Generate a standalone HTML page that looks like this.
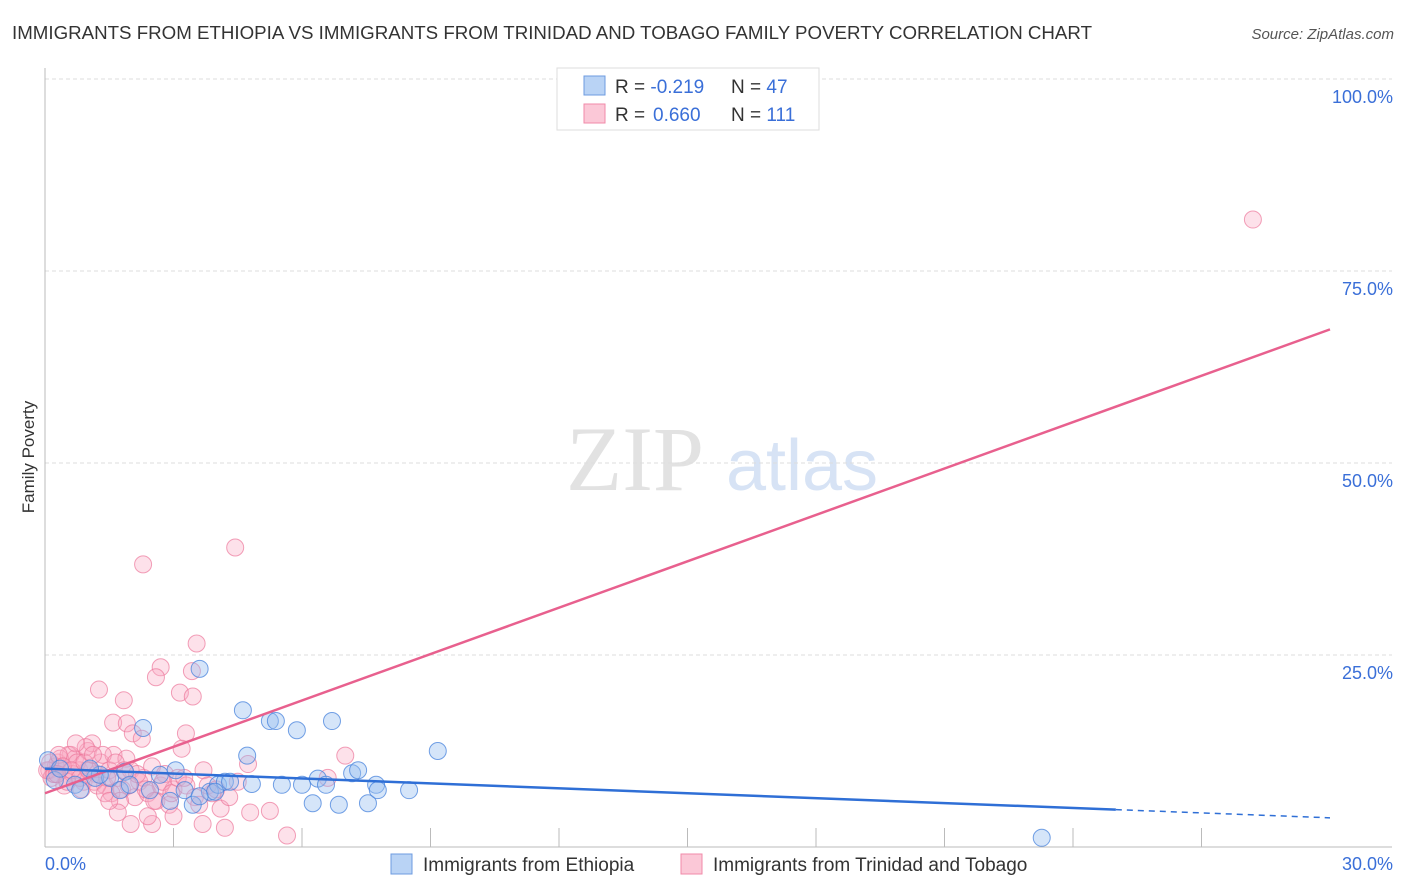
<!DOCTYPE html>
<html><head><meta charset="utf-8"><style>
body{margin:0;background:#fff;font-family:"Liberation Sans",sans-serif;}
#wrap{position:relative;width:1406px;height:892px;overflow:hidden;}
</style></head><body><div id="wrap">
<svg id="svg" width="1406" height="892" xmlns="http://www.w3.org/2000/svg">
<text x="12" y="39" font-size="18" fill="#333" textLength="1080" lengthAdjust="spacingAndGlyphs">IMMIGRANTS FROM ETHIOPIA VS IMMIGRANTS FROM TRINIDAD AND TOBAGO FAMILY POVERTY CORRELATION CHART</text>
<text x="1394" y="39" font-size="15" fill="#555" font-style="italic" text-anchor="end">Source: ZipAtlas.com</text>
<text x="34" y="457" font-size="17" fill="#333" text-anchor="middle" transform="rotate(-90 34 457)">Family Poverty</text>
<g><text x="635" y="490" font-size="92" fill="#e2e2e2" font-family="Liberation Serif,serif" text-anchor="middle">ZIP</text><text x="802" y="490" font-size="72" fill="#d7e3f5" text-anchor="middle">atlas</text></g>
<g id="grid"></g><g id="pts"></g><g id="lines"></g>
<g>
<rect x="557" y="68" width="262" height="62" fill="#fff" stroke="#ddd"/>
<rect x="584" y="76" width="21" height="19" fill="#b9d3f5" stroke="#6d9be0"/>
<rect x="584" y="104" width="21" height="19" fill="#fbc8d7" stroke="#f08aa8"/>
<text x="615" y="93" font-size="19" fill="#333">R = <tspan fill="#3a6fd8">-0.219</tspan><tspan x="731">N = </tspan><tspan fill="#3a6fd8">47</tspan></text>
<text x="615" y="121" font-size="19" fill="#333">R = <tspan fill="#3a6fd8" x="653">0.660</tspan><tspan x="731">N = </tspan><tspan fill="#3a6fd8">111</tspan></text>
</g>
<g>
<rect x="391" y="854" width="21" height="20" fill="#b9d3f5" stroke="#6d9be0"/>
<text x="423" y="871" font-size="19" fill="#333">Immigrants from Ethiopia</text>
<rect x="681" y="854" width="21" height="20" fill="#fbc8d7" stroke="#f08aa8"/>
<text x="713" y="871" font-size="19" fill="#333">Immigrants from Trinidad and Tobago</text>
</g>
</svg>
<script>
const xTicks=[0,3,6,9,12,15,18,21,24,27,30];
const yTicks=[25,50,75,100];
const yTickLabels=["25.0%","50.0%","75.0%","100.0%"];
const blueX=[0.07,0.23,0.7,0.82,1.17,1.52,1.87,2.29,2.45,2.68,3.05,3.26,3.45,3.61,3.85,4.04,4.2,4.62,4.72,5.25,5.39,5.53,5.88,6,6.25,6.37,6.7,6.56,6.86,7.17,7.31,7.54,7.73,7.77,8.5,9.17,23.27,1.28,1.75,0.35,1.05,1.98,2.92,3.97,4.32,4.83,3.61];
const blueY=[11.3,8.7,8.1,7.4,9,9,9.8,15.5,7.4,9.4,10,7.4,5.5,23.2,7.2,8.1,8.5,17.8,11.9,16.4,16.4,8.1,15.2,8.1,5.7,8.9,16.4,8.1,5.5,9.6,10,5.7,8.1,7.4,7.4,12.5,1.2,9.4,7.4,10.2,10.2,8.1,6,7.2,8.5,8.2,6.6];
const pinkX=[28.2,4.44,2.29,3.54,2.7,2.59,3.43,3.15,3.45,1.26,1.84,1.59,1.91,3.29,2.05,2.26,3.19,4.74,7.01,5.25,5.65,3.68,4.79,0.1,0.2,0.3,0.4,0.5,0.6,0.7,0.8,0.9,1.0,1.1,1.2,1.3,1.4,1.5,1.6,1.7,1.8,1.9,2.0,2.1,2.2,2.3,2.4,2.5,2.6,2.7,2.8,2.9,3.0,3.1,3.3,3.5,3.7,3.9,4.1,0.15,0.25,0.35,0.45,0.55,0.65,0.75,0.85,0.95,1.05,1.15,1.35,1.45,1.55,1.65,1.75,1.85,1.95,2.15,2.35,2.55,2.75,2.95,3.25,3.6,3.8,4.0,4.3,4.5,0.05,0.12,0.22,0.32,0.42,0.52,0.62,0.72,0.82,0.92,1.02,1.12,1.22,1.4,1.7,2.0,2.5,3.0,1.5,2.4,4.2,6.6,0.28];
const pinkY=[81.7,39,36.8,26.5,23.4,22.1,22.9,20.1,19.6,20.5,19.1,16.2,16.1,14.8,14.8,14.1,12.8,10.8,11.9,4.7,1.5,3,4.5,10,9.5,11,10.5,9,12,11.5,10,8.5,12.5,13.5,9.5,11,8,10,12,9,7.5,11.5,10,6.5,8.5,9,7,10.5,6,8,9.5,5.5,7.5,9,8,6.5,10,7,5,9,10.5,11.5,8,12,9.5,11,7.5,13,10,8.5,12,9,7,11,6,10,8,9.5,7.5,6,8.5,7,9,5.5,8,7.5,6.5,8.5,10,11,9.5,12,10.5,8.5,10,13.5,9,11,10,12,8,7,4.5,3,3,4,6,4,2.5,9,9.5];
const blueFit=[10.2,3.8], pinkFit=[7.0,67.4];
const X=v=>45+v/30*1285, Y=v=>847-v/25*192;
const NS="http://www.w3.org/2000/svg";
function mk(t,a,p){const e=document.createElementNS(NS,t);for(const k in a)e.setAttribute(k,a[k]);p.appendChild(e);return e;}
const grid=document.getElementById('grid');
yTicks.forEach((v,i)=>{
 const l=mk('line',{x1:45,x2:1392,y1:Y(v),y2:Y(v),stroke:'#ddd','stroke-dasharray':'4,3'},grid);
 
 
 const t=mk('text',{x:1393,y:Y(v)+24,'font-size':18,fill:'#3a6fd8','text-anchor':'end'},grid);t.textContent=yTickLabels[i];
 
 
});
mk('line',{x1:45,x2:45,y1:68,y2:847,stroke:'#bbb'},grid);
mk('line',{x1:45,x2:1392,y1:847,y2:847,stroke:'#bbb'},grid);
xTicks.forEach(v=>{if(v>0&&v<30){const l=mk('line',{x1:X(v),x2:X(v),y1:828,y2:847,stroke:'#bbb'},grid);
 
 }});
const t0=mk('text',{x:45,y:870,'font-size':18,fill:'#3a6fd8'},grid);t0.textContent='0.0%';


const t1=mk('text',{x:1393,y:870,'font-size':18,fill:'#3a6fd8','text-anchor':'end'},grid);t1.textContent='30.0%';


const pts=document.getElementById('pts');
pinkX.forEach((x,i)=>{const c=mk('circle',{cx:X(x),cy:Y(pinkY[i]),r:8.5,fill:'rgba(248,170,195,0.35)',stroke:'rgba(236,120,155,0.7)','stroke-width':1},pts);
 
 });
blueX.forEach((x,i)=>{const c=mk('circle',{cx:X(x),cy:Y(blueY[i]),r:8.5,fill:'rgba(150,190,240,0.4)',stroke:'rgba(70,130,220,0.75)','stroke-width':1},pts);
 
 });
const lines=document.getElementById('lines');
const bAt=v=>blueFit[0]+(blueFit[1]-blueFit[0])*v/30;
const pl=mk('line',{x1:X(0),y1:Y(pinkFit[0]),x2:X(30),y2:Y(pinkFit[1]),stroke:'#e8608e','stroke-width':2.5},lines);


const bl=mk('line',{x1:X(0),y1:Y(bAt(0)),x2:X(25),y2:Y(bAt(25)),stroke:'#2f6fd6','stroke-width':2.5},lines);


const bd=mk('line',{x1:X(25),y1:Y(bAt(25)),x2:X(30),y2:Y(bAt(30)),stroke:'#2f6fd6','stroke-width':1.5,'stroke-dasharray':'6,5'},lines);


</script></div></body></html>
